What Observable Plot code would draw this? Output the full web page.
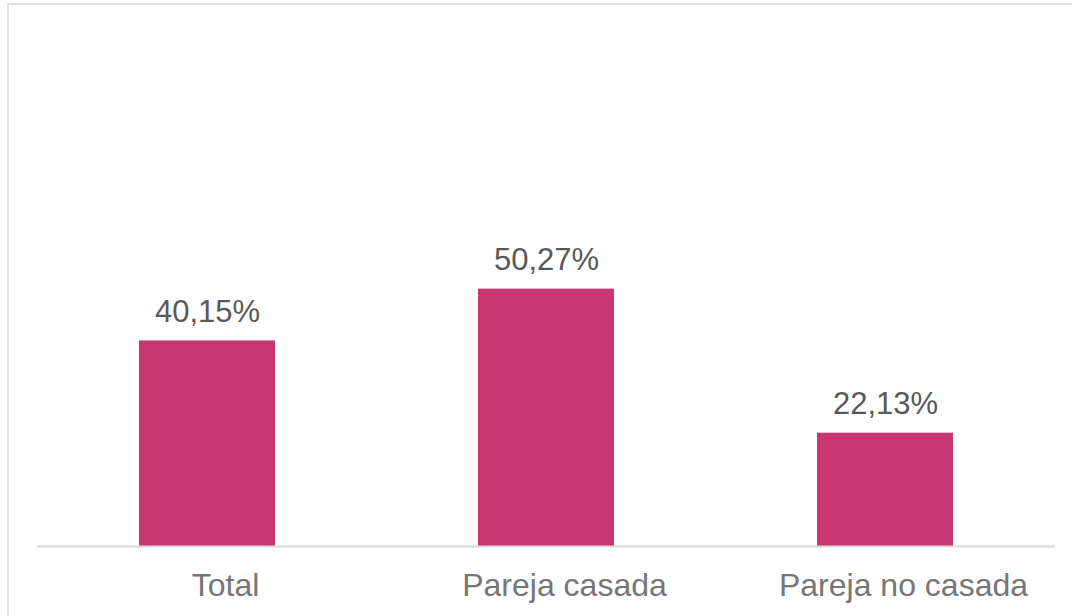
<!DOCTYPE html>
<html>
<head>
<meta charset="utf-8">
<script src="https://cdn.jsdelivr.net/npm/d3@7"></script>
<script src="https://cdn.jsdelivr.net/npm/@observablehq/plot@0.6"></script>
<style>
  html, body { margin: 0; padding: 0; background: #fff; overflow: hidden; }
  #wrap { position: relative; width: 1072px; height: 616px; }
  #border { position: absolute; left: 7px; top: 3px; width: 1200px; height: 800px;
            border: 2px solid #e2e2e2; pointer-events: none; box-sizing: border-box; }
</style>
</head>
<body>
<div id="wrap"><div id="border"></div></div>
<script>
const categories = ["Total", "Pareja casada", "Pareja no casada"];
const values = [40.15, 50.27, 22.13];

const data = categories.map((c, i) => ({category: c, value: values[i]}));
const fmt = v => v.toFixed(2).replace(".", ",") + "%";

const chart = Plot.plot({
  width: 1072,
  height: 616,
  marginLeft: 37,
  marginRight: 17,
  marginTop: 34,
  marginBottom: 70,
  style: {fontFamily: "'Liberation Sans', Arial, sans-serif", background: "transparent"},
  x: {domain: categories, padding: 0.6, paddingOuter: 0.3, label: null},
  y: {domain: [0, 100], axis: null},
  marks: [
    Plot.barY(data, {x: "category", y: "value", fill: "#C83771"}),
    Plot.ruleY([0], {stroke: "#d9d9d9", strokeWidth: 2}),
    Plot.axisX({tickSize: 0, tickPadding: 27, fontSize: 32, color: "#767676", dx: 18, label: null}),
    Plot.text(data, {x: "category", y: "value", text: d => fmt(d.value), fontSize: 31, fill: "#595959", lineAnchor: "middle", dy: -29})
  ]
});
document.getElementById("wrap").prepend(chart);
</script>
</body>
</html>
